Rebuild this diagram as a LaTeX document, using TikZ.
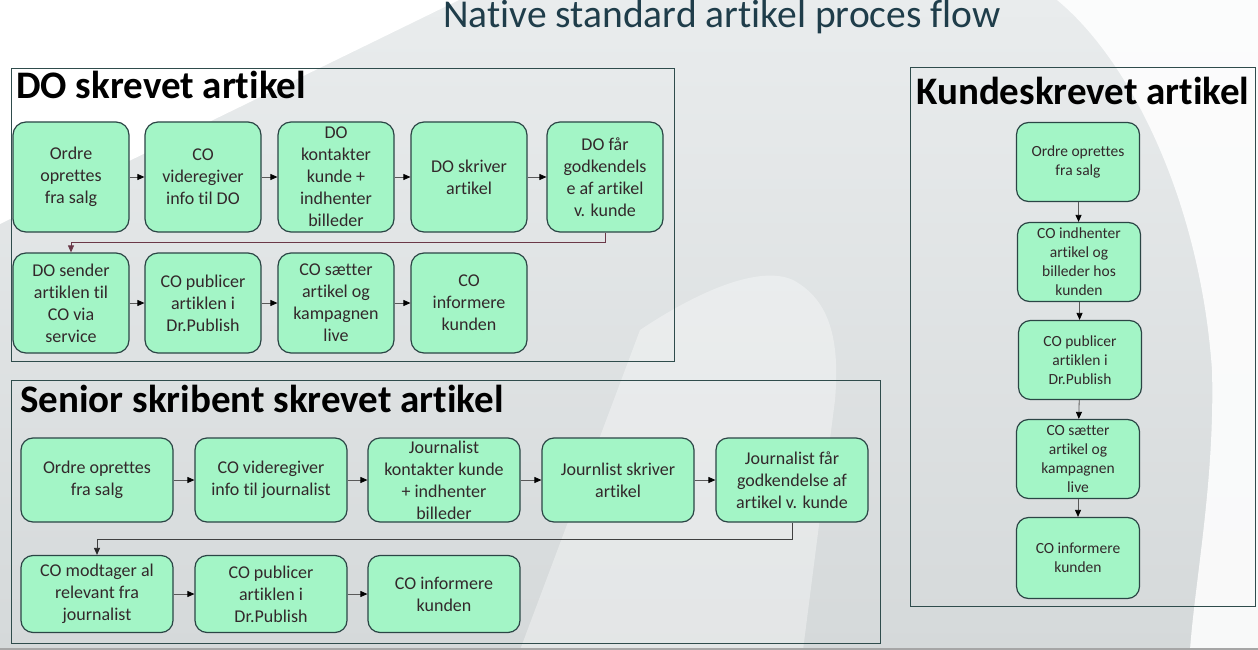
\documentclass[tikz,border=0pt]{standalone}
\usepackage{fontspec}
\setmainfont{Carlito}[Ligatures=NoCommon]
\usetikzlibrary{arrows.meta}
\definecolor{boxfill}{HTML}{A3F5C6}
\definecolor{boxline}{HTML}{2B4545}
\definecolor{boxtext}{HTML}{33282B}
\definecolor{framecol}{HTML}{2F4C4C}
\definecolor{titlecol}{HTML}{1F3D4A}
\definecolor{fbred}{HTML}{6A3848}
\definecolor{bgtop}{HTML}{E9ECED}
\definecolor{bgbot}{HTML}{D5D9DA}
\tikzset{
    mybox/.style = {rectangle, rounded corners=13pt, draw=boxline, line width=1.2pt, fill=boxfill, align=center, text=boxtext, minimum width=116pt, minimum height=110pt, inner sep=0pt, font=\fontsize{18}{22}\selectfont},
    myboxs/.style = {mybox, rounded corners=12pt, minimum width=152pt, minimum height=84pt},
    myboxk/.style = {mybox, rounded corners=12pt, minimum width=123pt, minimum height=79pt, font=\fontsize{15.5}{19}\selectfont},
    frame/.style = {draw=framecol, line width=1pt},
    grptitle/.style = {anchor=base west, inner sep=0pt, font=\fontsize{39}{44}\selectfont\bfseries, text=black},
    edgen/.style = {-{Triangle[length=7pt,width=6pt,color=black]}, line width=0.8pt, draw=black!65},
    edgefb/.style = {-{Triangle[length=7pt,width=6pt,color=fbred]}, line width=0.8pt, draw=fbred},
    edgefg/.style = {-{Triangle[length=7pt,width=6pt,color=black!85]}, line width=0.8pt, draw=black!75}
}
\begin{document}
\begin{tikzpicture}[x=1pt,y=-1pt]
% background
\useasboundingbox (0,0) rectangle (1258,650);
\shade[top color=bgtop, bottom color=bgbot] (0,0) rectangle (1258,650);
\fill[white] (0,0) -- (459,0) -- (0,224) -- cycle;
\fill[white, opacity=.85] (1057,0) .. controls (1130,60) and (1200,200) .. (1212,370) .. controls (1215,480) and (1195,580) .. (1190,650) -- (1258,650) -- (1258,0) -- cycle;
\fill[white, opacity=.35] (640,330) .. controls (700,290) and (760,265) .. (793,280) .. controls (830,300) and (840,340) .. (835,400) -- (803,650) -- (520,650) -- cycle;
\draw[black!35, line width=2pt] (0,649) -- (1258,649);
%
\node[font=\fontsize{39.5}{44}\selectfont, text=titlecol, anchor=base, inner sep=0pt] at (722,28) (title) {Native standard artikel proces flow};
%
% DO skrevet artikel
\draw[frame] (11,69) rectangle (674,361);
\node[grptitle] at (16,99) (tdo) {DO skrevet artikel};
\node[mybox] at (71,177) (d1) {Ordre\\oprettes\\fra salg};
\node[mybox] at (203,177) (d2) {CO\\videregiver\\info til DO};
\node[mybox] at (336,177) (d3) {DO\\kontakter\\kunde +\\indhenter\\billeder};
\node[mybox] at (469,177) (d4) {DO skriver\\artikel};
\node[mybox] at (605,177) (d5) {DO får\\godkendels\\e af artikel\\v. kunde};
\node[mybox, minimum height=100pt] at (71,303) (d6) {DO sender\\artiklen til\\CO via\\service};
\node[mybox, minimum height=100pt] at (203,303) (d7) {CO publicer\\artiklen i\\Dr.Publish};
\node[mybox, minimum height=100pt] at (336,303) (d8) {CO sætter\\artikel og\\kampagnen\\live};
\node[mybox, minimum height=100pt] at (469,303) (d9) {CO\\informere\\kunden};
%
\draw[edgen] (d1) -- (d2);
\draw[edgen] (d2) -- (d3);
\draw[edgen] (d3) -- (d4);
\draw[edgen] (d4) -- (d5);
\draw[edgefb] (d5.south) -- ++(0,10) -| (d6.north);
\draw[edgen] (d6) -- (d7);
\draw[edgen] (d7) -- (d8);
\draw[edgen] (d8) -- (d9);
%
% Senior skribent skrevet artikel
\draw[frame] (11,380) rectangle (880,643);
\node[grptitle] at (20,412) (tss) {Senior skribent skrevet artikel};
\node[myboxs] at (97,480) (s1) {Ordre oprettes\\fra salg};
\node[myboxs] at (271,480) (s2) {CO videregiver\\info til journalist};
\node[myboxs] at (444,480) (s3) {Journalist\\kontakter kunde\\+ indhenter\\billeder};
\node[myboxs] at (618,480) (s4) {Journlist skriver\\artikel};
\node[myboxs] at (792,480) (s5) {Journalist får\\godkendelse af\\artikel v. kunde};
\node[myboxs, minimum height=77pt] at (97,594) (s6) {CO modtager al\\relevant fra\\journalist};
\node[myboxs, minimum height=77pt] at (271,594) (s7) {CO publicer\\artiklen i\\Dr.Publish};
\node[myboxs, minimum height=77pt] at (444,594) (s8) {CO informere\\kunden};
%
\draw[edgen] (s1) -- (s2);
\draw[edgen] (s2) -- (s3);
\draw[edgen] (s3) -- (s4);
\draw[edgen] (s4) -- (s5);
\draw[edgefg] (s5.south) -- ++(0,17) -| (s6.north);
\draw[edgen] (s6) -- (s7);
\draw[edgen] (s7) -- (s8);
%
% Kundeskrevet artikel
\draw[frame] (910,68) rectangle (1255,606);
\node[grptitle] at (916,105) (tku) {Kundeskrevet artikel};
\node[myboxk] at (1078,162) (k1) {Ordre oprettes\\fra salg};
\node[myboxk] at (1079,262) (k2) {CO indhenter\\artikel og\\billeder hos\\kunden};
\node[myboxk] at (1080,360) (k3) {CO publicer\\artiklen i\\Dr.Publish};
\node[myboxk] at (1078,459) (k4) {CO sætter\\artikel og\\kampagnen\\live};
\node[myboxk, minimum height=81pt] at (1078,558) (k5) {CO informere\\kunden};
%
\draw[edgen] (k1) -- (k2);
\draw[edgen] (k2) -- (k3);
\draw[edgen] (k3) -- (k4);
\draw[edgen] (k4) -- (k5);
\end{tikzpicture}
\end{document}
